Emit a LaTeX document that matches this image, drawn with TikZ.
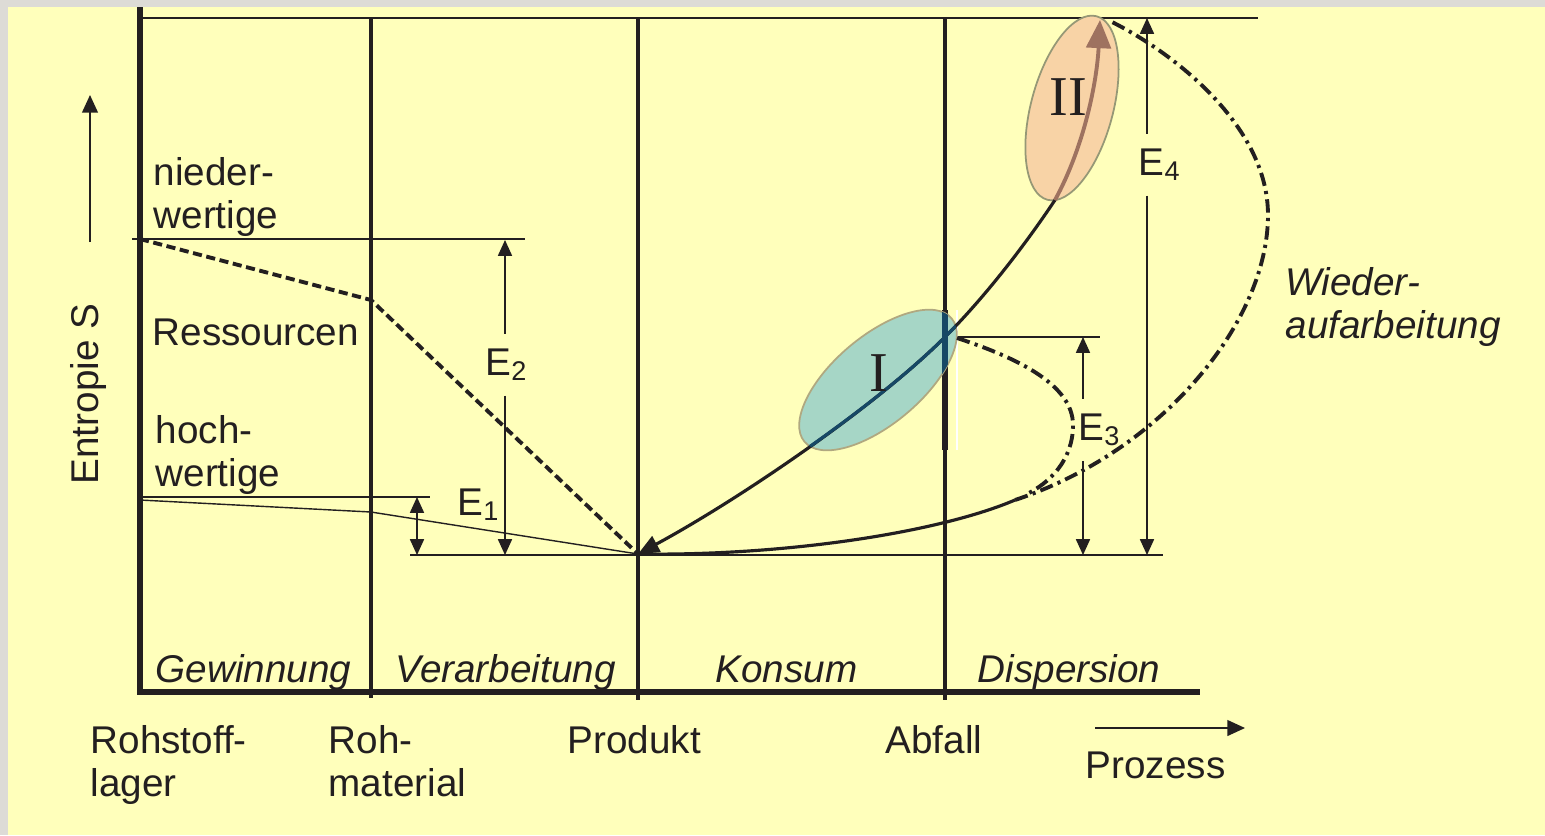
\documentclass[tikz,border=0pt]{standalone}
\usepackage{fontspec}
\setmainfont{Liberation Sans}
\newfontfamily\romanfont{Liberation Serif}
\usetikzlibrary{arrows.meta, positioning}
\definecolor{bgyellow}{RGB}{255,255,187}
\definecolor{framegray}{RGB}{221,219,214}
\definecolor{ink}{RGB}{35,31,32}
\definecolor{tealfill}{RGB}{166,214,198}
\definecolor{tealrim}{RGB}{176,168,128}
\definecolor{tealline}{RGB}{22,72,102}
\definecolor{peachfill}{RGB}{248,211,166}
\definecolor{peachrim}{RGB}{150,152,118}
\definecolor{brownline}{RGB}{158,114,96}
\tikzset{
  axis/.style={
    draw=ink,
    line width=1.5pt
  },
  phaseline/.style={
    draw=ink,
    line width=0.9pt
  },
  guide/.style={
    draw=ink,
    line width=0.4pt
  },
  flow/.style={
    draw=ink,
    line width=0.9pt
  },
  dimarrow/.style={
    guide,
    -{Triangle[length=4.5pt,width=4pt]}
  },
  recycle/.style={
    draw=ink,
    line width=1.1pt,
    dash pattern=on 3.8pt off 1.5pt on 0.9pt off 1.5pt
  },
  lbl/.style={
    text=ink,
    inner sep=0pt,
    font=\fontsize{11pt}{12.2pt}\selectfont
  },
  phaselbl/.style={
    lbl,
    font=\fontsize{11pt}{12.2pt}\selectfont\itshape
  },
  elbl/.style={
    lbl,
    inner ysep=4pt
  },
  roman/.style={
    text=ink,
    inner sep=0pt,
    font=\romanfont\fontsize{16pt}{16pt}\selectfont
  }
}

\begin{document}
\begin{tikzpicture}[x=0.1mm, y=-0.1mm]
\useasboundingbox (0,0) rectangle (1545,835);
\fill[framegray] (0,0) rectangle (1545,835);
\fill[bgyellow] (8,7) rectangle (1545,835);

% points on the curves
\coordinate (prod) at (638,554);
\coordinate (abf) at (945,337);
\coordinate (lowII) at (1055,200);
\coordinate (topII) at (1100,20);
\coordinate (merge) at (1015,500);
\coordinate (farR) at (1268,215);
\coordinate (endR) at (1112,22);
\coordinate (loopS) at (957,338);
\coordinate (loopR) at (1073,425);
\coordinate (loopE) at (1025,495);

% guide lines
\draw[guide] (140,18) -- (1258,18);
\draw[guide] (132,239) -- (525,239);
\draw[guide] (140,497) -- (430,497);
\draw[guide] (410,555) -- (1163,555);
\draw[guide] (955,337) -- (1100,337);

% phase borders
\foreach \x/\yend in {371/698, 638/700, 945/700}
  \draw[phaseline] (\x,18) -- (\x,\yend);
\draw[ink, line width=1.5pt] (945,310) -- (945,450);
\draw[white, line width=0.3pt] (957,310) -- (957,450);

% axes
\draw[axis] (140,7) -- (140,692) -- (1200,692);
\coordinate (ylow) at (90,242);
\coordinate (yhigh) at (90,95);
\draw[guide, -{Triangle[length=5pt,width=4.5pt]}] (ylow) -- (yhigh);
\coordinate (pstart) at (1095,728);
\coordinate (pend) at (1245,728);
\draw[guide, -{Triangle[length=5pt,width=4.5pt]}] (pstart) -- (pend);

% resources
\draw[ink, line width=1.1pt, dash pattern=on 2.6pt off 1.3pt] (140,239) -- (371,300) -- (prod);
\draw[guide] (140,500) -- (371,512) -- (prod);

% zones I and II
\path[fill=tealfill, draw=tealrim, line width=0.5pt]
  (878,380) ellipse [x radius=96, y radius=44, rotate=40];
\path[fill=peachfill, draw=peachrim, line width=0.5pt]
  (1072,108) ellipse [x radius=95, y radius=41, rotate=75];

% consumption and recycling
\draw[flow, {Triangle[length=6pt,width=5pt]}-] (prod)
  .. controls (738,500) and (875,407) .. (abf)
  .. controls (985,297) and (1025,245) .. (lowII);
\begin{scope}
  \clip (878,380) ellipse [x radius=96, y radius=44, rotate=40];
  \draw[flow, tealline] (prod)
    .. controls (738,500) and (875,407) .. (abf)
    .. controls (985,297) and (1025,245) .. (lowII);
  \draw[tealline, line width=1.5pt] (945,290) -- (945,450);
\end{scope}
\draw[brownline, line width=1.1pt, -{Triangle[length=8pt,width=7pt]}] (lowII)
  .. controls (1085,145) and (1097,80) .. (topII);
\draw[flow] (prod) .. controls (788,556) and (940,532) .. (merge);
\draw[recycle] (merge) .. controls (1165,450) and (1268,320) .. (farR)
  .. controls (1268,125) and (1172,52) .. (endR);
\draw[recycle] (loopS) .. controls (1018,358) and (1073,385) .. (loopR)
  .. controls (1073,460) and (1050,483) .. (loopE);

\node[roman] (zoneI) at (879,373) {I};
\node[roman] (zoneII) at (1068,97) {II};

% energy inputs
\coordinate (e1top) at (417,497);
\coordinate (e1bot) at (417,555);
\draw[guide, {Triangle[length=4.5pt,width=4pt]}-{Triangle[length=4.5pt,width=4pt]}] (e1top) -- (e1bot);
\node[lbl, anchor=base west] (e1) at (457,515) {E\textsubscript{1}};

\coordinate (e2top) at (505,240);
\coordinate (e2bot) at (505,555);
\node[elbl, anchor=base west] (e2) at (485,375) {E\textsubscript{2}};
\draw[dimarrow] (e2top |- e2.north) -- (e2top);
\draw[dimarrow] (e2bot |- e2.south) -- (e2bot);

\coordinate (e3top) at (1083,337);
\coordinate (e3bot) at (1083,555);
\node[elbl, anchor=base west] (e3) at (1078,440) {E\textsubscript{3}};
\draw[dimarrow] (e3top |- e3.north) -- (e3top);
\draw[dimarrow] (e3bot |- e3.south) -- (e3bot);

\coordinate (e4top) at (1147,18);
\coordinate (e4bot) at (1147,555);
\node[elbl, anchor=base west] (e4) at (1138,175) {E\textsubscript{4}};
\draw[dimarrow] (e4top |- e4.north) -- (e4top);
\draw[dimarrow] (e4bot |- e4.south) -- (e4bot);

% labels
\node[lbl, rotate=90, anchor=base] (entropie) at (98,394) {Entropie S};
\node[lbl, anchor=north west, align=left] (nieder) at (153,157) {nieder-\\wertige};
\node[lbl, anchor=base west] (ress) at (152,345) {Ressourcen};
\node[lbl, anchor=north west, align=left] (hoch) at (155,415) {hoch-\\wertige};
\node[phaselbl, anchor=north west, align=left] (wieder) at (1285,267) {Wieder-\\aufarbeitung};

\node[phaselbl, anchor=base west] (gew) at (155,682) {Gewinnung};
\node[phaselbl, anchor=base west] (verarb) at (395,682) {Verarbeitung};
\node[phaselbl, anchor=base west] (kons) at (715,682) {Konsum};
\node[phaselbl, anchor=base west] (disp) at (977,682) {Dispersion};

\node[lbl, anchor=north west, align=left] (rohst) at (90,725) {Rohstoff-\\lager};
\node[lbl, anchor=north west, align=left] (rohmat) at (328,725) {Roh-\\material};
\node[lbl, anchor=base west] (produkt) at (567,753) {Produkt};
\node[lbl, anchor=base west] (abfall) at (885,753) {Abfall};
\node[lbl, anchor=base west] (prozess) at (1085,778) {Prozess};
\end{tikzpicture}
\end{document}
